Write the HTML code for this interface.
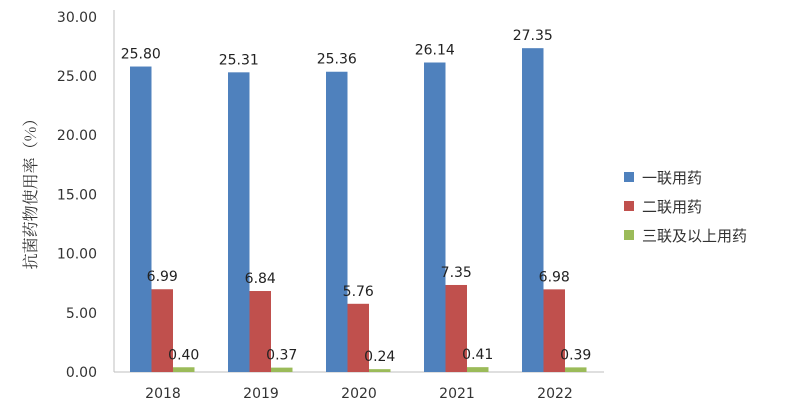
<!DOCTYPE html>
<html><head><meta charset="utf-8"><style>
body{margin:0;background:#fff;}
svg text{font-family:"DejaVu Sans","Noto Sans CJK SC",sans-serif;}
</style></head><body>
<svg width="788" height="413" id="c">
<line x1="114" y1="10" x2="114" y2="372" stroke="#bfbfbf"/>
<line x1="114" y1="372" x2="604" y2="372" stroke="#bfbfbf"/>
<text transform="translate(36,190) rotate(-90)" text-anchor="middle" font-size="16" fill="#333" style="font-family:'Noto Serif CJK SC',serif">抗菌药物使用率（%）</text>
<g id="legend">
<rect x="624" y="172" width="10" height="10" fill="#4f81bd"/>
<text x="642" y="183" font-size="15" fill="#333">一联用药</text>
<rect x="624" y="201" width="10" height="10" fill="#c0504d"/>
<text x="642" y="212" font-size="15" fill="#333">二联用药</text>
<rect x="624" y="230" width="10" height="10" fill="#9bbb59"/>
<text x="642" y="241" font-size="15" fill="#333">三联及以上用药</text>
</g>
</svg>
<script>
const categories=["2018","2019","2020","2021","2022"];
const single=[25.80,25.31,25.36,26.14,27.35];
const dual=[6.99,6.84,5.76,7.35,6.98];
const triple=[0.40,0.37,0.24,0.41,0.39];
const yTicks=["0.00","5.00","10.00","15.00","20.00","25.00","30.00"];
const svg=document.getElementById('c');
const NS='http://www.w3.org/2000/svg';
const y0=372,ppu=11.84,x0=114,step=98;
const ys=v=>y0-v*ppu;
const xc=i=>x0+step*(i+0.5);
function mk(t,a){const e=document.createElementNS(NS,t);for(const k in a)e.setAttribute(k,a[k]);svg.appendChild(e);return e;}
yTicks.forEach(t=>{const e=mk('text',{x:97,y:ys(parseFloat(t))+5,'text-anchor':'end','font-size':14,fill:'#333'});e.textContent=t;

});
const series=[[single,'#4f81bd','single'],[dual,'#c0504d','dual'],[triple,'#9bbb59','triple']];
categories.forEach((c,i)=>{
 const t=mk('text',{x:xc(i),y:398,'text-anchor':'middle','font-size':14,fill:'#333'});t.textContent=c;
 
 
 series.forEach(([arr,col,nm],s)=>{
  const bx=xc(i)-33+s*21.5,v=arr[i];
  const r=mk('rect',{x:bx,y:ys(v),width:21.5,height:v*ppu,fill:col});
  
  
  const l=mk('text',{x:bx+10.75,y:ys(v)-8,'text-anchor':'middle','font-size':14,fill:'#222'});l.textContent=v.toFixed(2);
  
  
 });
});
</script>
</body></html>
